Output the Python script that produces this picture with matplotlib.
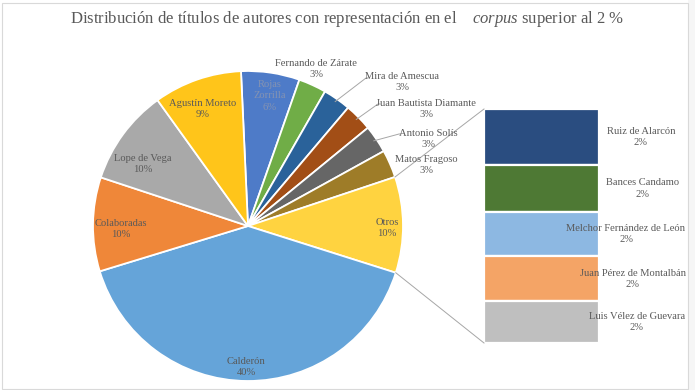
import numpy as np
import matplotlib
matplotlib.use("Agg")
import matplotlib.pyplot as plt
from matplotlib.patches import Rectangle

plt.rcParams['font.family'] = ['Liberation Serif', 'DejaVu Serif']
plt.rcParams['mathtext.fontset'] = 'custom'
plt.rcParams['mathtext.rm'] = 'Liberation Serif'
plt.rcParams['mathtext.it'] = 'Liberation Serif:italic'

# ---------------- data ----------------
pie_labels = ["Rojas\nZorrilla", "Fernando de Zárate", "Mira de Amescua",
              "Juan Bautista Diamante", "Antonio Solís", "Matos Fragoso",
              "Otros", "Calderón", "Colaboradas", "Lope de Vega", "Agustín Moreto"]
pie_values = [6.1, 2.9, 2.9, 2.9, 2.9, 2.9, None, 40.4, 9.8, 10.0, 9.2]

bar_labels = ["Ruiz de Alarcón", "Bances Candamo", "Melchor Fernández de León",
              "Juan Pérez de Montalbán", "Luis Vélez de Guevara"]
bar_values = [2.4, 2.0, 1.9, 1.9, 1.8]

otros_value = sum(bar_values)
pie_values = [otros_value if v is None else v for v in pie_values]

pie_colors = ["#4E7BC8", "#70AD47", "#2A629A", "#A24E16", "#666666", "#9E7C28",
              "#FFD340", "#65A4D9", "#EF8739", "#A9A9A9", "#FFC51A"]
bar_colors = ["#2A4D80", "#4E7934", "#8DB8E2", "#F4A466", "#BFBFBF"]

# ---------------- layout (pixel coords) ----------------
W, H = 695, 390
def py(y):
    return H - y

pie_center = (248, py(226))
pie_radius = 155
start_angle = 92.6
bar_rect = (484, 109, 115, 234)   # left, top, width, height in px
text_col = "#595959"
fs = 7.6
lsp = 1.32

pie_label_pos = [(270, 96), (316, 69), (402, 82), (426, 109), (428, 139), (426, 165),
                 (387, 228), (246, 367), (121, 229), (143, 164), (203, 109)]
leaders = {2: (366, 78), 3: (378, 104), 4: (399, 134)}
bar_label_x = [641, 643, 626, 633, 637]

fig = plt.figure(figsize=(W / 100, H / 100), dpi=100)
ax = fig.add_axes([0, 0, 1, 1])
ax.set_zorder(2)

wedges, _ = ax.pie(pie_values, colors=pie_colors, center=pie_center, radius=pie_radius,
                   startangle=start_angle, counterclock=False, normalize=True,
                   wedgeprops=dict(edgecolor="white", linewidth=1.3))
ax.set_xlim(0, W)
ax.set_ylim(0, H)
ax.set_aspect('equal')
ax.axis('off')

# chart border
ax.add_patch(Rectangle((688, 0), W - 688, H, facecolor="#F6F6F6", edgecolor="none", zorder=0))
ax.add_patch(Rectangle((2, py(389)), 686, 386, facecolor="none", edgecolor="#D9D9D9",
                       linewidth=0.8, zorder=0))

# title
ax.text(347, py(19), "Distribución de títulos de autores con representación en el $\\quad\\mathit{corpus}$ superior al 2 %",
        ha="center", va="center", fontsize=12, color=text_col)

# pie labels
total = sum(pie_values)
for i, (lab, val) in enumerate(zip(pie_labels, pie_values)):
    x, y = pie_label_pos[i]
    col = "#8593B2" if i == 0 else text_col
    ax.text(x, py(y), f"{lab}\n{round(val / total * 100):.0f}%", ha="center", va="center",
            fontsize=fs, color=col, linespacing=lsp, multialignment="center")

# leader lines
for i, (ex, ey) in leaders.items():
    w = wedges[i]
    mid = np.deg2rad((w.theta1 + w.theta2) / 2)
    sx = pie_center[0] + pie_radius * 0.98 * np.cos(mid)
    sy = pie_center[1] + pie_radius * 0.98 * np.sin(mid)
    ax.plot([sx, ex, ex + 2], [sy, py(ey), py(ey)], color="#A6A6A6", lw=0.7)

# connector lines from Otros wedge to bar
ow = wedges[6]
bl, bt, bw, bh = bar_rect
for ang, by in [(ow.theta2, bt), (ow.theta1, bt + bh)]:
    a = np.deg2rad(ang)
    sx = pie_center[0] + pie_radius * np.cos(a)
    sy = pie_center[1] + pie_radius * np.sin(a)
    ax.plot([sx, bl], [sy, py(by)], color="#A6A6A6", lw=0.7, zorder=1)

# bar of the pie
bax = fig.add_axes([bl / W, (H - bt - bh) / H, bw / W, bh / H])
bax.set_zorder(1)
bottoms = np.concatenate([[0], np.cumsum(bar_values)[:-1]])
bax.bar([0] * len(bar_values), bar_values, bottom=bottoms, width=1.0,
        color=bar_colors, edgecolor="white", linewidth=1.6)
bax.set_xlim(-0.5, 0.5)
bax.set_ylim(sum(bar_values), 0)
bax.axis('off')

for i, (lab, val) in enumerate(zip(bar_labels, bar_values)):
    yc = bottoms[i] + val / 2
    ypx = bt + bh * yc / sum(bar_values)
    ax.text(bar_label_x[i], py(ypx), f"{lab}\n{round(val / total * 100):.0f}%",
            ha="center", va="center", fontsize=fs, color=text_col, linespacing=lsp,
            multialignment="center")

fig.savefig("out.png", dpi=100)
